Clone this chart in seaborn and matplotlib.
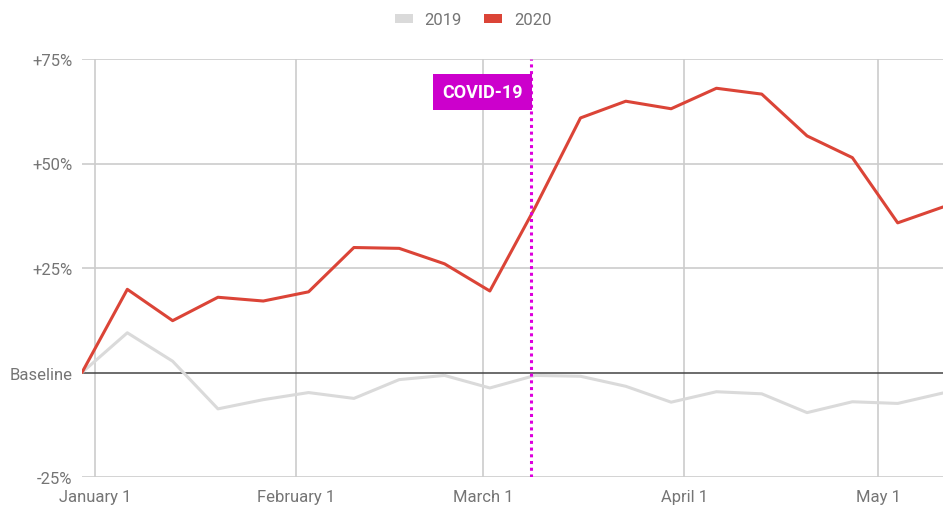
import matplotlib
matplotlib.use("Agg")
import matplotlib.pyplot as plt
import matplotlib.dates as mdates
from matplotlib.patches import Patch
import seaborn as sns
import pandas as pd
import numpy as np

# ---- data ----
week_start = "2019-12-30"
n_weeks = 20
values_2019 = [0, 9.5, 2.7, -8.7, -6.5, -4.8, -6.2, -1.7, -0.7, -3.7,
               -0.7, -0.9, -3.3, -7.1, -4.6, -5.1, -9.6, -7.0, -7.4, -4.9]
values_2020 = [0, 19.9, 12.4, 18.0, 17.1, 19.3, 29.9, 29.7, 26.0, 19.5,
               39.5, 60.9, 64.9, 63.1, 68.0, 66.6, 56.6, 51.4, 35.8, 39.6]
series_names = ["2019", "2020"]
series_colors = ["#dadada", "#db4437"]
y_ticks = [-25, 0, 25, 50, 75]
y_tick_labels = ["-25%", "Baseline", "+25%", "+50%", "+75%"]
x_tick_dates = ["2020-01-01", "2020-02-01", "2020-03-01", "2020-04-01", "2020-05-01"]
x_tick_labels = ["January 1", "February 1", "March 1", "April 1", "May 1"]
event_date = "2020-03-08 08:00"
event_label = "COVID-19"

dates = pd.date_range(week_start, periods=n_weeks, freq="7D")
df = pd.DataFrame({
    "date": np.concatenate([dates, dates]),
    "value": values_2019 + values_2020,
    "year": [series_names[0]] * n_weeks + [series_names[1]] * n_weeks,
})

sns.set_theme(style="white")
plt.rcParams["font.family"] = ["Roboto", "DejaVu Sans"]

fig = plt.figure(figsize=(9.46, 5.06), dpi=100)
ax = fig.add_axes([82 / 946, (506 - 478) / 506, (943 - 82) / 946, (478 - 60) / 506])

# gridlines
for y in y_ticks:
    if y != 0:
        ax.axhline(y, color="#cccccc", lw=1.2, zorder=0)
for d in x_tick_dates:
    ax.axvline(pd.Timestamp(d), color="#cccccc", lw=1.2, zorder=0)
ax.axhline(0, color="#444444", lw=1.1, zorder=1)

sns.lineplot(data=df, x="date", y="value", hue="year", palette=series_colors,
             hue_order=series_names, linewidth=2.2, ax=ax, legend=False, zorder=3)

ax.set_xlim(dates[0], dates[-1])
ax.set_ylim(-25, 75)
ax.set_yticks(y_ticks)
ax.set_yticklabels(y_tick_labels)
ax.set_xticks([pd.Timestamp(d) for d in x_tick_dates])
ax.set_xticklabels(x_tick_labels)
ax.tick_params(axis="both", length=0, labelsize=12, colors="#757575")
ax.tick_params(axis="y", pad=7)
ax.tick_params(axis="x", pad=9)
ax.set_xlabel("")
ax.set_ylabel("")
for s in ax.spines.values():
    s.set_visible(False)

# event line and label
ev = pd.Timestamp(event_date)
ax.axvline(ev, color="#dd00dd", lw=2.2, linestyle=(0, (1, 1.2)), zorder=4)
ax.annotate(event_label, xy=(ev, 0.92), xycoords=("data", "axes fraction"),
            xytext=(-6, 0), textcoords="offset points", ha="right", va="center",
            color="white", fontsize=13, fontweight="bold",
            bbox=dict(boxstyle="square,pad=0.5", fc="#cc00cc", ec="none"), zorder=5)

handles = [Patch(facecolor=c, edgecolor="none") for c in series_colors]
leg = fig.legend(handles, series_names, loc="upper center", bbox_to_anchor=(0.5, 1.0),
                 ncol=2, frameon=False, fontsize=12, handlelength=1.1, handleheight=0.5,
                 columnspacing=1.3, handletextpad=0.7, borderaxespad=0.4)
for t in leg.get_texts():
    t.set_color("#757575")

fig.savefig("out.png", dpi=100)
